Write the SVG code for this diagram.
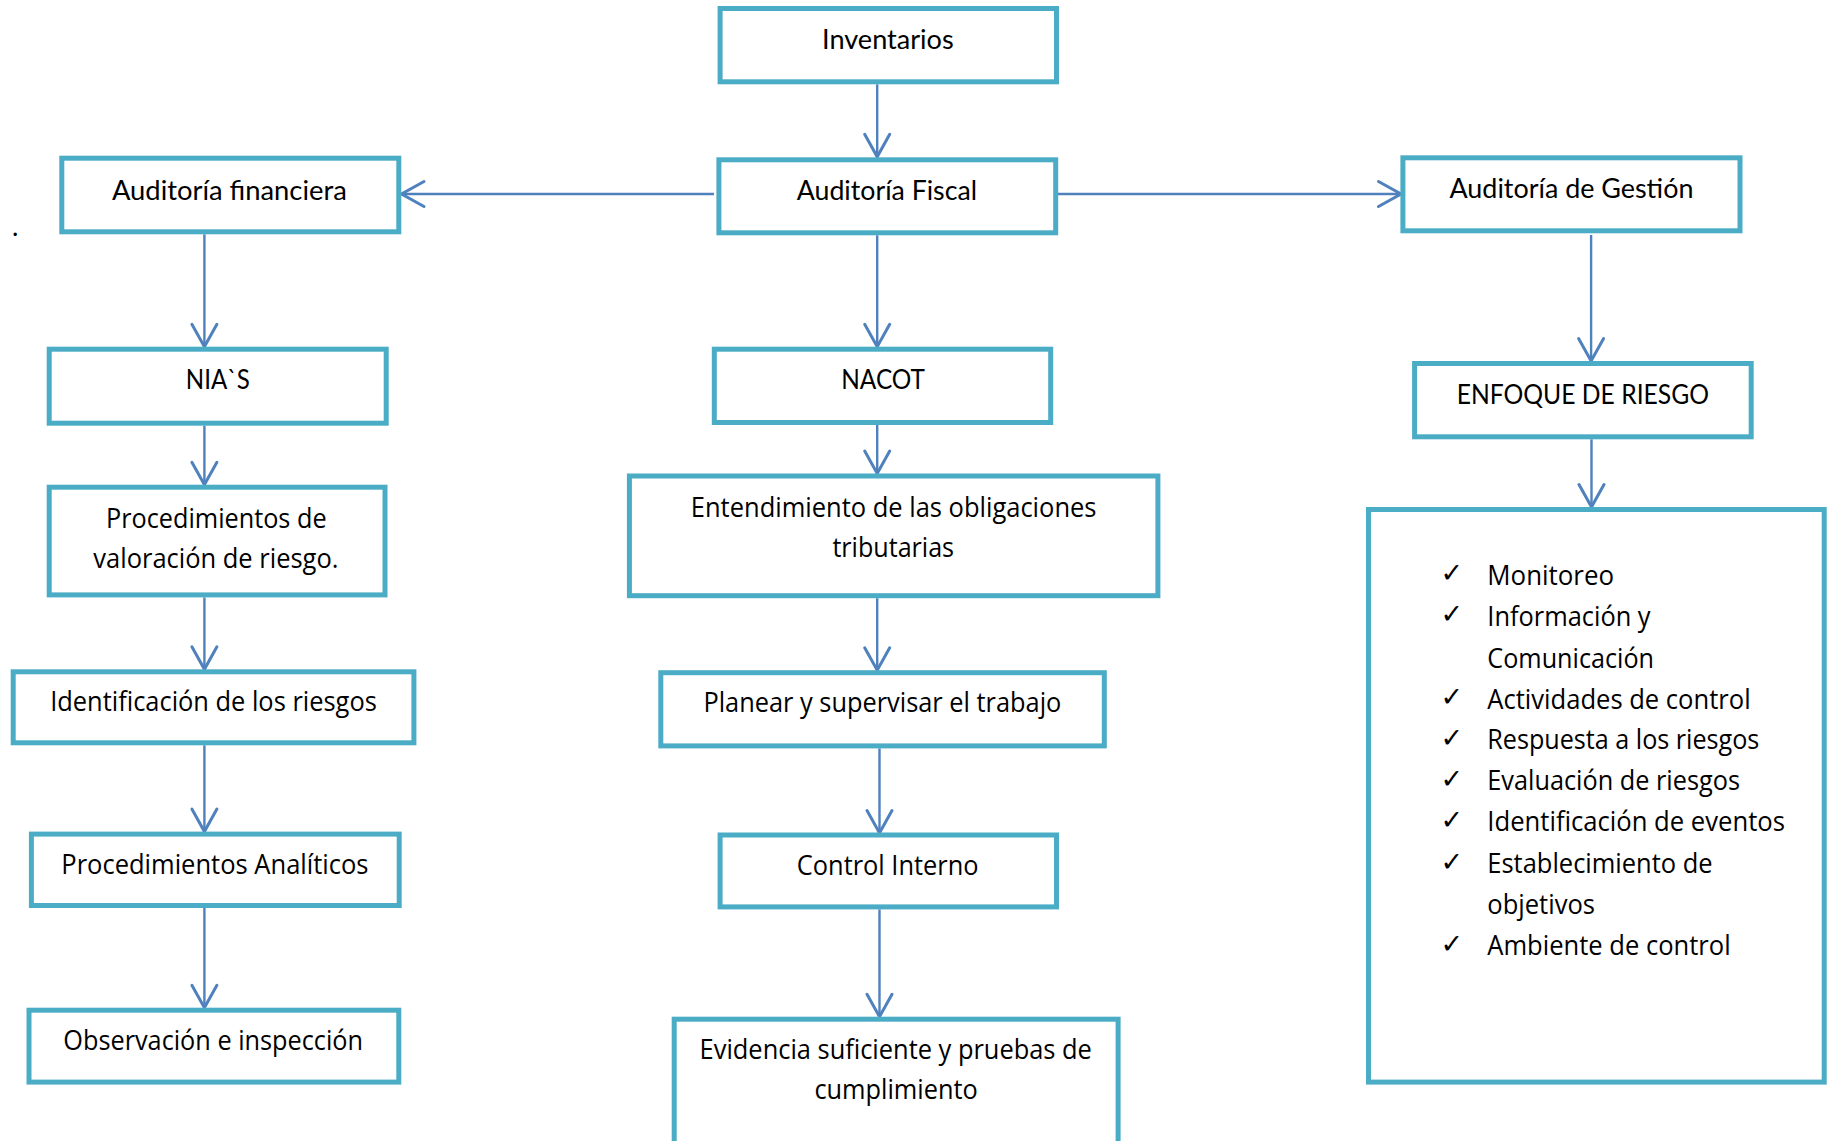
<svg xmlns="http://www.w3.org/2000/svg" width="1831" height="1141" viewBox="0 0 1831 1141">
  <style>
    .box { fill: #ffffff; stroke: #4BACC6; stroke-width: 5; }
    .lbl { font-family: Lato, "Liberation Sans", sans-serif; font-size: 27px; fill: #000000; }
    .txt { font-family: "Open Sans", "Noto Sans", "Liberation Sans", sans-serif; font-size: 27px; fill: #000000; }
    .chk { font-family: "DejaVu Sans", sans-serif; font-size: 27px; font-weight: bold; fill: #000000; }
    .conn { fill: none; stroke: #4F81BD; stroke-width: 2.4; marker-end: url(#arrow); }
  </style>
  <defs>
    <marker id="arrow" markerUnits="userSpaceOnUse" markerWidth="30" markerHeight="30" viewBox="-20 -12 22 24" refX="0" refY="0" orient="auto" overflow="visible">
      <path d="M-18,-10 L0,0 L-18,10" fill="none" stroke="#4F81BD" stroke-width="2.4" stroke-linecap="round" stroke-linejoin="miter"/>
    </marker>
  </defs>
  <rect width="1831" height="1141" fill="#ffffff"/>

  <text class="lbl" x="12" y="236" font-size="20">.</text>

  <!-- connectors -->
  <g id="connectors">
    <line class="conn" x1="877.2" y1="84.3" x2="877.2" y2="156.8"/>
    <line class="conn" x1="714" y1="194" x2="401.5" y2="194"/>
    <line class="conn" x1="1056.3" y1="194" x2="1401" y2="194"/>
    <line class="conn" x1="877.2" y1="235.3" x2="877.2" y2="346.7"/>
    <line class="conn" x1="877.2" y1="425" x2="877.2" y2="473.5"/>
    <line class="conn" x1="877.2" y1="598.2" x2="877.2" y2="670.2"/>
    <line class="conn" x1="879.5" y1="748.4" x2="879.5" y2="833"/>
    <line class="conn" x1="879.5" y1="909.4" x2="879.5" y2="1016.7"/>
    <line class="conn" x1="204.4" y1="234.3" x2="204.4" y2="346.7"/>
    <line class="conn" x1="204.4" y1="425.7" x2="204.4" y2="484.7"/>
    <line class="conn" x1="204.4" y1="597.4" x2="204.4" y2="669.3"/>
    <line class="conn" x1="204.4" y1="745.3" x2="204.4" y2="831.6"/>
    <line class="conn" x1="204.4" y1="908" x2="204.4" y2="1007.7"/>
    <line class="conn" x1="1591.1" y1="235" x2="1591.1" y2="361"/>
    <line class="conn" x1="1591.5" y1="439.3" x2="1591.5" y2="507"/>
  </g>

  <!-- central column -->
  <g id="inventarios">
    <rect class="box" x="720.1" y="8.5" width="336.4" height="73.3"/>
    <text class="lbl" x="822" y="49.3" textLength="131.7" lengthAdjust="spacingAndGlyphs">Inventarios</text>
  </g>
  <g id="auditoria-fiscal">
    <rect class="box" x="718.9" y="159.8" width="336.8" height="73"/>
    <text class="lbl" x="796.8" y="200" textLength="180.2" lengthAdjust="spacingAndGlyphs">Auditoría Fiscal</text>
  </g>
  <g id="nacot">
    <rect class="box" x="714.3" y="349.2" width="336.4" height="73.3"/>
    <text class="lbl" x="841.2" y="389.3" textLength="83.8" lengthAdjust="spacingAndGlyphs">NACOT</text>
  </g>
  <g id="entendimiento">
    <rect class="box" x="629.4" y="476" width="528.5" height="119.7"/>
    <text class="txt" x="690.8" y="516.9" textLength="405.7" lengthAdjust="spacingAndGlyphs">Entendimiento de las obligaciones</text>
    <text class="txt" x="832.4" y="557.1" textLength="121.7" lengthAdjust="spacingAndGlyphs">tributarias</text>
  </g>
  <g id="planear">
    <rect class="box" x="660.8" y="672.7" width="443.5" height="73.2"/>
    <text class="txt" x="703.4" y="711.8" textLength="357.9" lengthAdjust="spacingAndGlyphs">Planear y supervisar el trabajo</text>
  </g>
  <g id="control-interno">
    <rect class="box" x="720.1" y="835" width="336.4" height="71.9"/>
    <text class="txt" x="796.8" y="874.5" textLength="181.8" lengthAdjust="spacingAndGlyphs">Control Interno</text>
  </g>
  <g id="evidencia">
    <rect class="box" x="674.2" y="1019.2" width="443.9" height="200"/>
    <text class="txt" x="699.6" y="1059.1" textLength="392.3" lengthAdjust="spacingAndGlyphs">Evidencia suficiente y pruebas de</text>
    <text class="txt" x="814.4" y="1099.4" textLength="163.4" lengthAdjust="spacingAndGlyphs">cumplimiento</text>
  </g>

  <!-- left column -->
  <g id="auditoria-financiera">
    <rect class="box" x="61.8" y="158.2" width="337" height="73.6"/>
    <text class="lbl" x="111.9" y="200" textLength="234.9" lengthAdjust="spacingAndGlyphs">Auditoría financiera</text>
  </g>
  <g id="nias">
    <rect class="box" x="49.2" y="349.2" width="337" height="74"/>
    <text class="lbl" x="185.8" y="389.3" textLength="64.1" lengthAdjust="spacingAndGlyphs">NIA`S</text>
  </g>
  <g id="valoracion">
    <rect class="box" x="49.2" y="487.2" width="335.8" height="107.7"/>
    <text class="txt" x="106" y="528.1" textLength="220.6" lengthAdjust="spacingAndGlyphs">Procedimientos de</text>
    <text class="txt" x="93.3" y="568.3" textLength="245.2" lengthAdjust="spacingAndGlyphs">valoración de riesgo.</text>
  </g>
  <g id="identificacion">
    <rect class="box" x="13.2" y="671.8" width="400.7" height="71"/>
    <text class="txt" x="50.2" y="710.5" textLength="326.6" lengthAdjust="spacingAndGlyphs">Identificación de los riesgos</text>
  </g>
  <g id="analiticos">
    <rect class="box" x="31.4" y="834.1" width="367.8" height="71.4"/>
    <text class="txt" x="61.3" y="873.6" textLength="307.2" lengthAdjust="spacingAndGlyphs">Procedimientos Analíticos</text>
  </g>
  <g id="observacion">
    <rect class="box" x="29" y="1010.2" width="369.8" height="71.9"/>
    <text class="txt" x="63.3" y="1050.2" textLength="299.7" lengthAdjust="spacingAndGlyphs">Observación e inspección</text>
  </g>

  <!-- right column -->
  <g id="auditoria-gestion">
    <rect class="box" x="1402.9" y="157.8" width="337.1" height="73"/>
    <text class="lbl" x="1449.5" y="198.3" textLength="243.9" lengthAdjust="spacingAndGlyphs">Auditoría de Gestión</text>
  </g>
  <g id="enfoque-riesgo">
    <rect class="box" x="1414.6" y="363.5" width="336.6" height="73.3"/>
    <text class="lbl" x="1456.7" y="404" textLength="252.3" lengthAdjust="spacingAndGlyphs">ENFOQUE DE RIESGO</text>
  </g>
  <g id="componentes">
    <rect class="box" x="1368.5" y="509.5" width="455.7" height="572.6"/>
    <text class="chk" x="1440.5" y="582">✓</text>
    <text class="chk" x="1440.5" y="623">✓</text>
    <text class="chk" x="1440.5" y="706">✓</text>
    <text class="chk" x="1440.5" y="747">✓</text>
    <text class="chk" x="1440.5" y="788">✓</text>
    <text class="chk" x="1440.5" y="829">✓</text>
    <text class="chk" x="1440.5" y="871">✓</text>
    <text class="chk" x="1440.5" y="953">✓</text>
    <text class="txt" x="1487.3" y="584.6" textLength="126.7" lengthAdjust="spacingAndGlyphs">Monitoreo</text>
    <text class="txt" x="1487.3" y="625.5" textLength="163.3" lengthAdjust="spacingAndGlyphs">Información y</text>
    <text class="txt" x="1487.3" y="667.6" textLength="166.7" lengthAdjust="spacingAndGlyphs">Comunicación</text>
    <text class="txt" x="1487.3" y="708.5" textLength="263.3" lengthAdjust="spacingAndGlyphs">Actividades de control</text>
    <text class="txt" x="1487.3" y="749.4" textLength="272" lengthAdjust="spacingAndGlyphs">Respuesta a los riesgos</text>
    <text class="txt" x="1487.3" y="790.3" textLength="252.7" lengthAdjust="spacingAndGlyphs">Evaluación de riesgos</text>
    <text class="txt" x="1487.3" y="831.2" textLength="297.7" lengthAdjust="spacingAndGlyphs">Identificación de eventos</text>
    <text class="txt" x="1487.3" y="873.3" textLength="225.3" lengthAdjust="spacingAndGlyphs">Establecimiento de</text>
    <text class="txt" x="1487.3" y="914.1" textLength="107.7" lengthAdjust="spacingAndGlyphs">objetivos</text>
    <text class="txt" x="1487.3" y="955" textLength="243.3" lengthAdjust="spacingAndGlyphs">Ambiente de control</text>
  </g>
</svg>
